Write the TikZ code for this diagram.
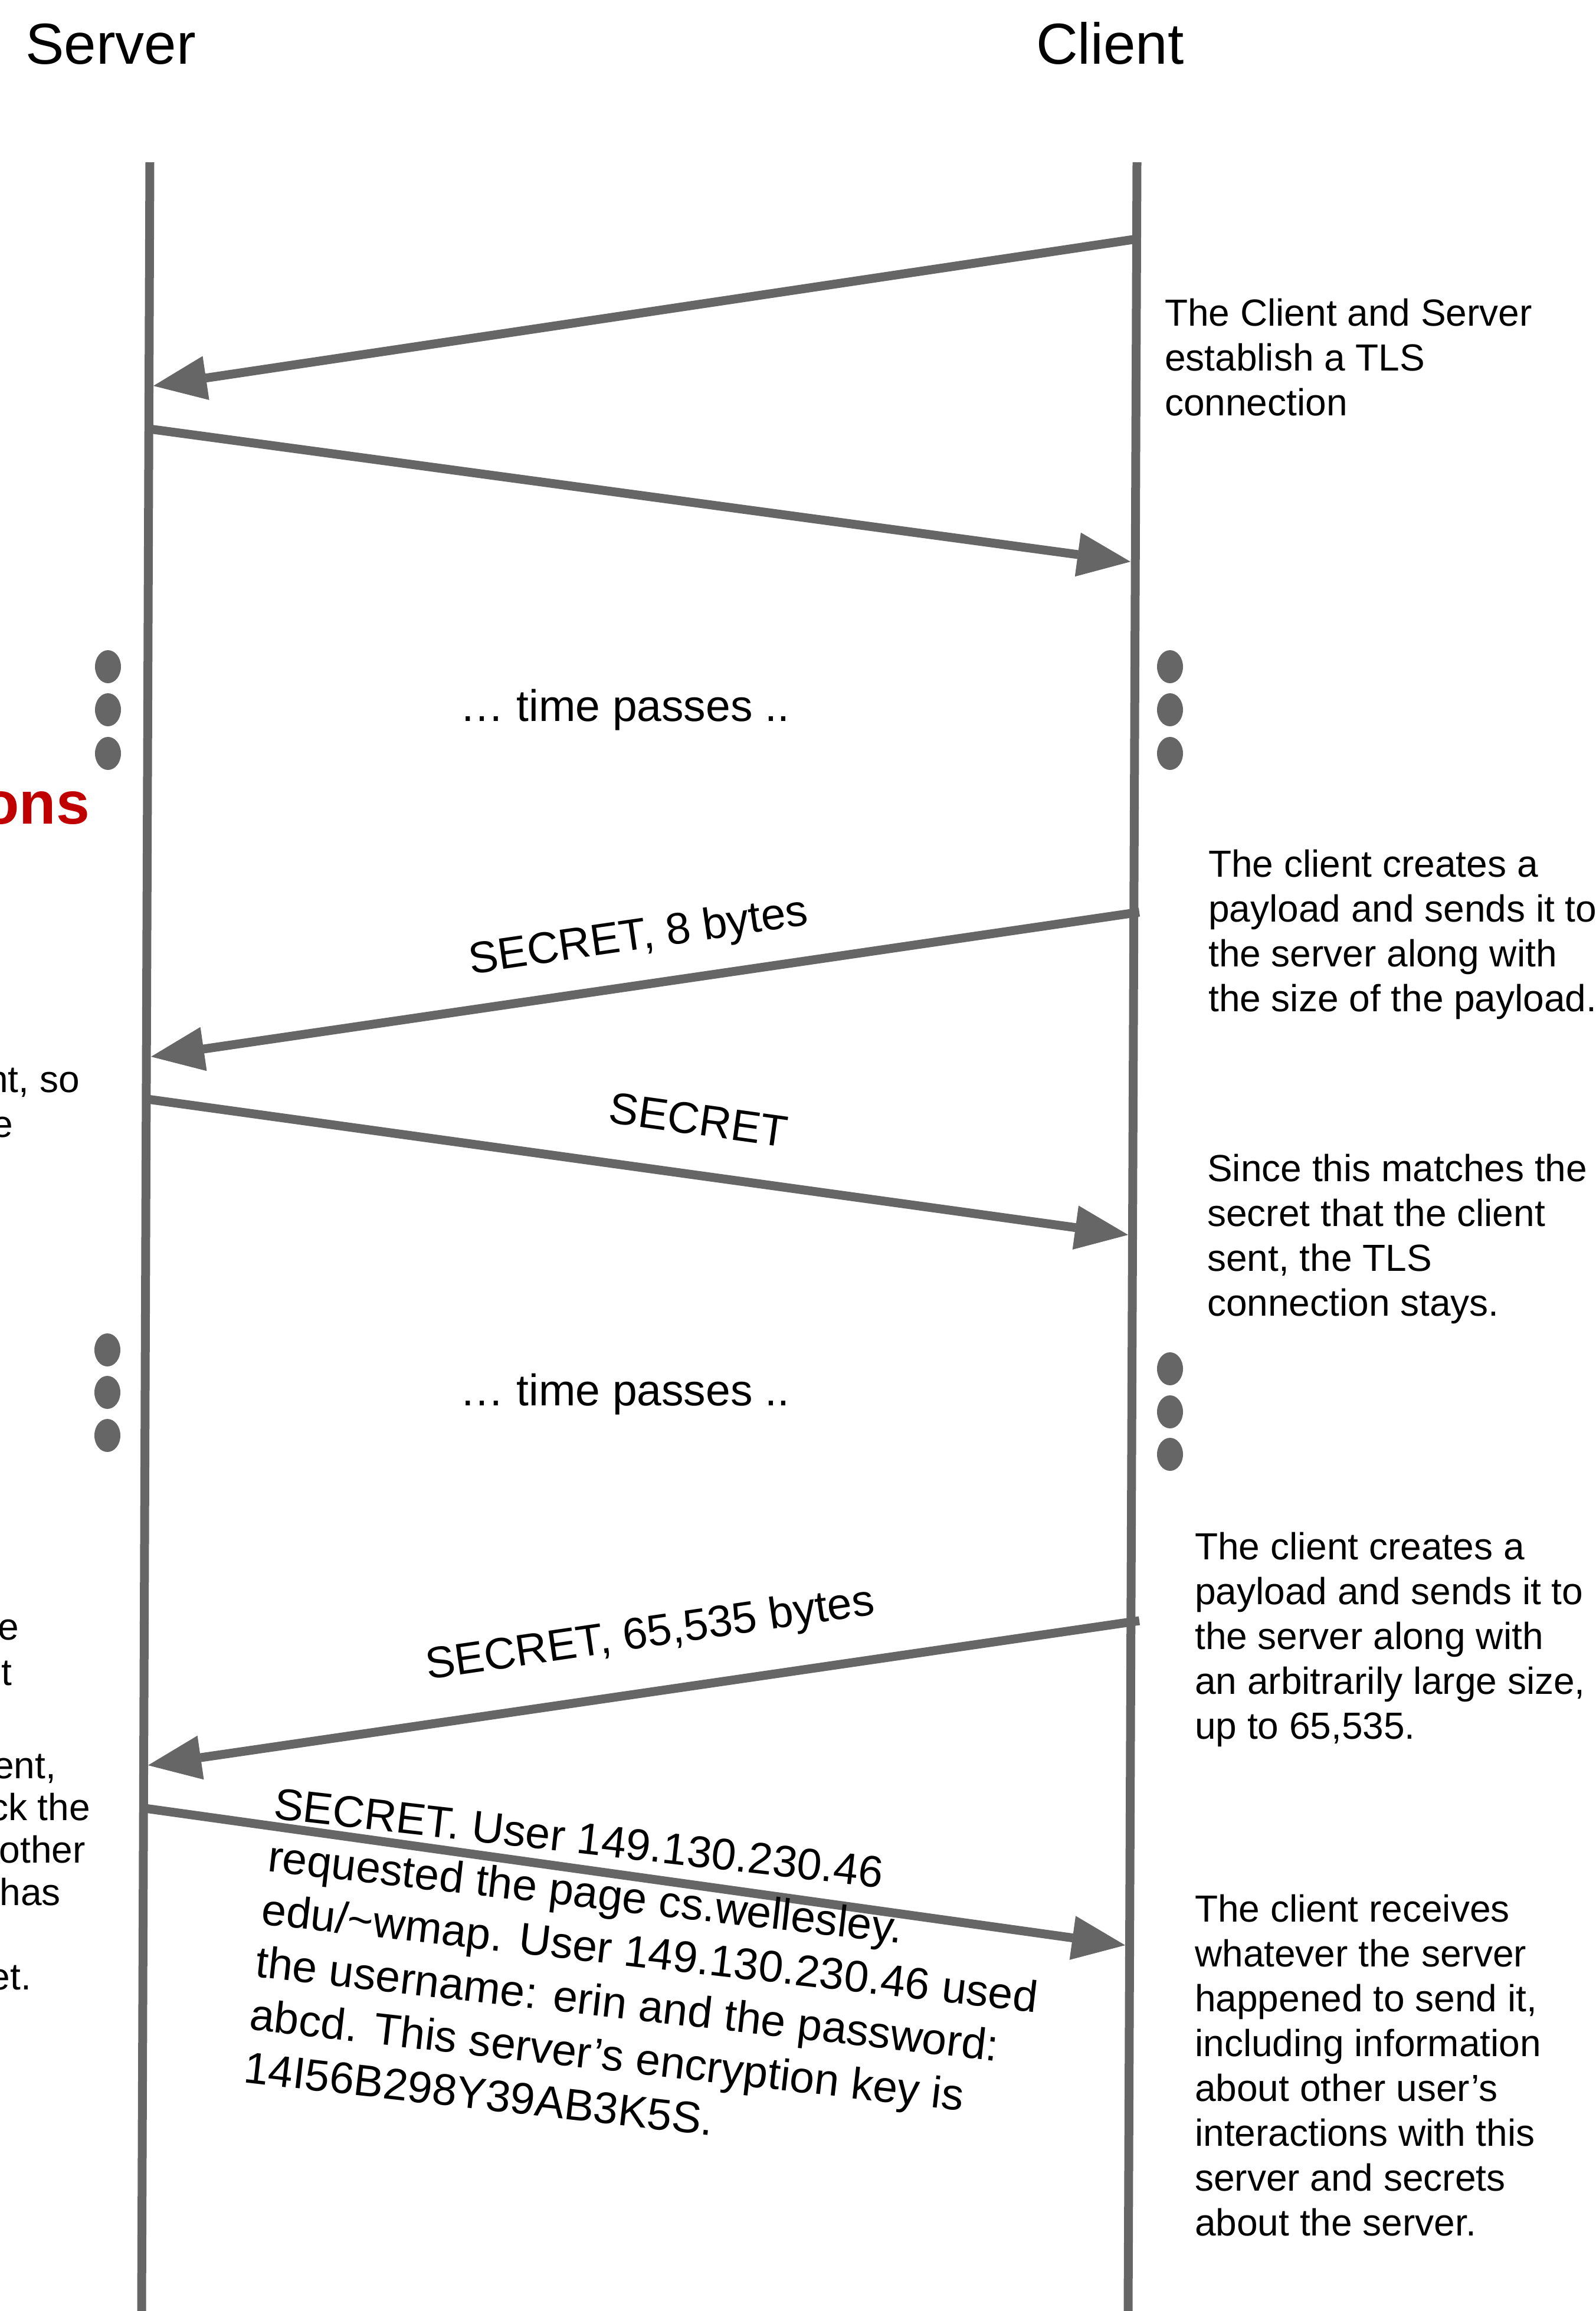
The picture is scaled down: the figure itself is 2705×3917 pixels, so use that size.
\documentclass[tikz,border=0pt]{standalone}
\usepackage{fontspec}
\setmainfont{Liberation Sans}
\usetikzlibrary{arrows.meta,shapes.geometric}
\definecolor{linegray}{HTML}{666666}
\definecolor{titlered}{HTML}{C00000}
\begin{document}
\begin{tikzpicture}[x=1pt,y=-1pt,
  life/.style={draw=linegray,line width=15pt},
  msg/.style={draw=linegray,line width=15pt,-{Triangle[length=90pt,width=75pt,line width=1pt]}},
  note/.style={anchor=north west,inner sep=0pt,align=left,font=\fontsize{64}{76}\selectfont},
  frag/.style={anchor=base east,inner sep=0pt,font=\fontsize{64}{76}\selectfont},
  lbl/.style={inner sep=0pt,font=\fontsize{75}{90}\selectfont},
  head/.style={anchor=base west,inner sep=0pt,font=\fontsize{98}{118}\selectfont},
  dot/.style={ellipse,fill=linegray,minimum width=44pt,minimum height=56pt,inner sep=0pt}]
\useasboundingbox (0,0) rectangle (2705,3917);
\fill[white] (0,0) rectangle (2705,3917);

% headers
\node[head] (server) at (43,108) {Server};
\node[head] (client) at (1756,108) {Client};

% lifelines
\coordinate (srvtop) at (254,275);
\coordinate (srvbot) at (240,3917);
\coordinate (clitop) at (1927,275);
\coordinate (clibot) at (1912,3917);
\draw[life] (srvtop) -- (srvbot);
\draw[life] (clitop) -- (clibot);

% message end points
\coordinate (c1) at (1927,405);  \coordinate (s1) at (260,654);
\coordinate (s2) at (253,727);   \coordinate (c2) at (1916,952);
\coordinate (c3) at (1931,1546); \coordinate (s3) at (256,1791);
\coordinate (s4) at (250,1863);  \coordinate (c4) at (1912,2093);
\coordinate (c5) at (1931,2747); \coordinate (s5) at (251,2992);
\coordinate (s6) at (246,3065);  \coordinate (c6) at (1907,3297);

\draw[msg] (c1) -- (s1);
\draw[msg] (s2) -- (c2);
\draw[msg] (c3) -- (s3);
\draw[msg] (s4) -- (c4);
\draw[msg] (c5) -- (s5);
\draw[msg] (s6) -- (c6);

% dots
\node[dot] (dl1) at (183,1130) {};
\node[dot] (dl2) at (183,1203) {};
\node[dot] (dl3) at (183,1277) {};
\node[dot] (dr1) at (1983,1130) {};
\node[dot] (dr2) at (1983,1203) {};
\node[dot] (dr3) at (1983,1277) {};
\node[dot] (dl4) at (182,2288) {};
\node[dot] (dl5) at (182,2360) {};
\node[dot] (dl6) at (182,2433) {};
\node[dot] (dr4) at (1983,2320) {};
\node[dot] (dr5) at (1983,2393) {};
\node[dot] (dr6) at (1983,2465) {};

% time passes
\node[lbl,anchor=base] (tp1) at (1059,1222) {… time passes ..};
\node[lbl,anchor=base] (tp2) at (1059,2382) {… time passes ..};

% arrow labels
\node[lbl,rotate=8.3] (l3) at (1082,1590) {SECRET, 8 bytes};
\node[lbl,rotate=-7.9] (l4) at (1184,1898) {SECRET};
\node[lbl,rotate=8.3] (l5) at (1102,2772) {SECRET, 65,535 bytes};
\node[lbl,anchor=north west,align=left,rotate=-6.5] (l6) at (468,3030)
  {SECRET. User 149.130.230.46\\requested the page cs.wellesley.\\edu/\textasciitilde wmap. User 149.130.230.46 used\\the username: erin and the password:\\abcd. This server’s encryption key is\\14I56B298Y39AB3K5S.};

% right notes
\node[note] (n1) at (1974,506) {The Client and Server\\establish a TLS\\connection};
\node[note] (n2) at (2048,1440) {The client creates a\\payload and sends it to\\the server along with\\the size of the payload.};
\node[note] (n3) at (2046,1956) {Since this matches the\\secret that the client\\sent, the TLS\\connection stays.};
\node[note] (n4) at (2025,2597) {The client creates a\\payload and sends it to\\the server along with\\an arbitrarily large size,\\up to 65,535.};
\node[note] (n5) at (2025,3211) {The client receives\\whatever the server\\happened to send it,\\including information\\about other user’s\\interactions with this\\server and secrets\\about the server.};

% clipped left texts
\node[anchor=base east,inner sep=0pt,font=\fontsize{102}{122}\selectfont\bfseries,text=titlered] (ons) at (152,1396) {ons};
\node[frag] (f1) at (135,1851) {nt, so};
\node[frag] (f2) at (22,1927) {e};
\node[frag] (f3) at (32,2779) {e};
\node[frag] (f4) at (20,2856) {t};
\node[frag] (f5) at (95,3014) {ent,};
\node[frag] (f6) at (153,3085) {ck the};
\node[frag] (f7) at (145,3157) {other};
\node[frag] (f8) at (103,3229) {has};
\node[frag] (f9) at (53,3372) {et.};
\end{tikzpicture}
\end{document}
